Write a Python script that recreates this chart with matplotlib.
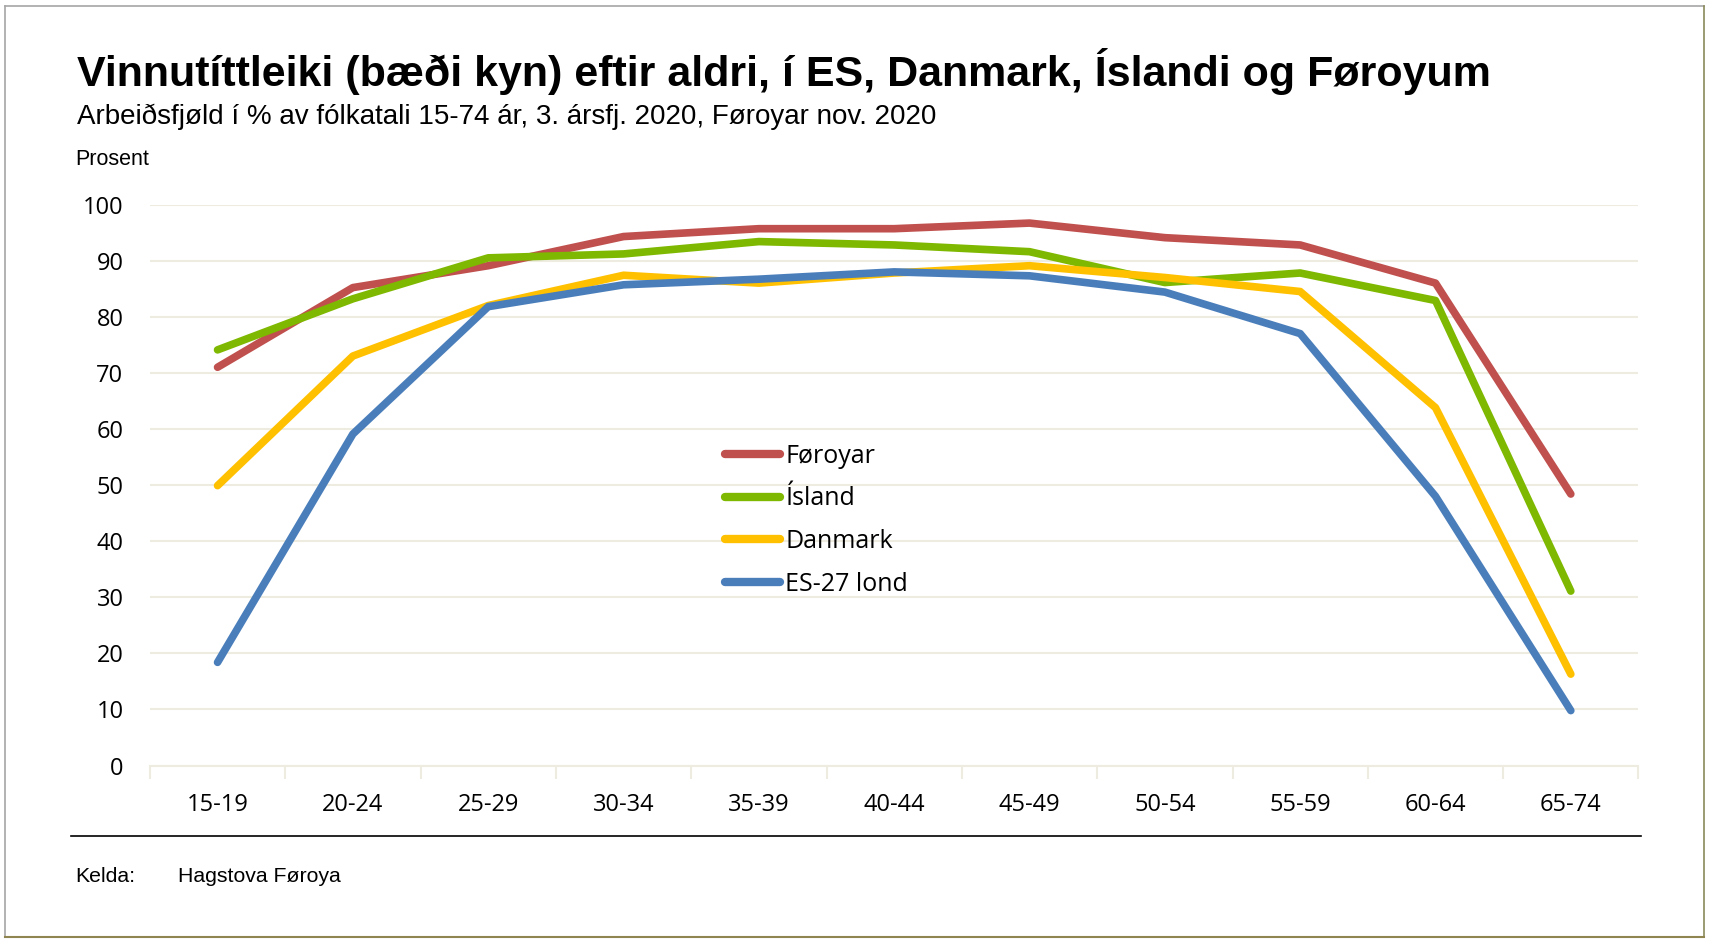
import matplotlib
matplotlib.use("Agg")
import matplotlib.pyplot as plt
from matplotlib.lines import Line2D

categories = ["15-19", "20-24", "25-29", "30-34", "35-39", "40-44",
              "45-49", "50-54", "55-59", "60-64", "65-74"]
series_names = ["Føroyar", "Ísland", "Danmark", "ES-27 lond"]
foroyar = [71.0, 85.2, 89.1, 94.3, 95.7, 95.7, 96.7, 94.1, 92.8, 86.0, 48.4]
island = [74.1, 83.2, 90.5, 91.2, 93.4, 92.8, 91.6, 86.1, 87.8, 82.9, 31.1]
danmark = [49.9, 73.0, 82.0, 87.4, 86.0, 87.8, 89.1, 87.0, 84.5, 63.8, 16.3]
es27 = [18.4, 59.1, 81.8, 85.7, 86.7, 88.0, 87.3, 84.4, 77.0, 48.0, 9.8]
yticks = [0, 10, 20, 30, 40, 50, 60, 70, 80, 90, 100]

colors = ["#C0504D", "#7FB800", "#FFC000", "#4A7EBB"]

title = "Vinnutíttleiki (bæði kyn) eftir aldri, í ES, Danmark, Íslandi og Føroyum"
subtitle = "Arbeiðsfjøld í % av fólkatali 15-74 ár, 3. ársfj. 2020, Føroyar nov. 2020"

W, H = 1713, 944
fig = plt.figure(figsize=(W / 100, H / 100), dpi=100)
fig.patch.set_facecolor("white")

# outer border
fig.add_artist(Line2D([0.0032, 0.0032], [0.007, 0.994], color="#A6A6A6", lw=1.2, transform=fig.transFigure))
fig.add_artist(Line2D([0.0032, 0.9949], [0.994, 0.994], color="#A6A6A6", lw=1.2, transform=fig.transFigure))
fig.add_artist(Line2D([0.9949, 0.9949], [0.007, 0.994], color="#8A8A5A", lw=1.2, transform=fig.transFigure))
fig.add_artist(Line2D([0.0032, 0.9949], [0.007, 0.007], color="#8F8550", lw=1.5, transform=fig.transFigure))

sans_ui = ["Open Sans", "DejaVu Sans"]
arial = ["Liberation Sans", "DejaVu Sans"]

fig.text(0.0447, 1 - 0.0753, title, fontsize=31, fontweight="bold", family=arial,
         ha="left", va="center", color="black")
fig.text(0.0447, 1 - 0.124, subtitle, fontsize=20, family=arial,
         ha="left", va="center", color="black")
fig.text(0.044, 1 - 0.169, "Prosent", fontsize=15.5, family=arial,
         ha="left", va="center", color="black")

ax = fig.add_axes([0.0875, 0.189, 0.869, 0.5943])
x = list(range(len(categories)))
for vals, c, name in zip([foroyar, island, danmark, es27], colors, series_names):
    ax.plot(x, vals, color=c, lw=5.5, solid_capstyle="round", solid_joinstyle="round",
            label=name, zorder=3)

ax.set_xlim(-0.5, len(categories) - 0.5)
ax.set_ylim(0, 100)
ax.set_yticks(yticks)
ax.set_yticklabels([str(v) for v in yticks], family=sans_ui, fontsize=17)
ax.set_xticks(x)
ax.set_xticklabels(categories, family=sans_ui, fontsize=17)
ax.set_xticks([i - 0.5 for i in range(len(categories) + 1)], minor=True)
ax.tick_params(axis="x", which="major", length=0, pad=20)
ax.tick_params(axis="x", which="minor", length=9, width=1.5, color="#EEECE1")
ax.tick_params(axis="y", length=0, pad=19)
ax.grid(axis="y", color="#EEECE1", lw=1.5, zorder=0)
for s in ["top", "right", "left"]:
    ax.spines[s].set_visible(False)
ax.spines["bottom"].set_color("#EEECE1")
ax.spines["bottom"].set_linewidth(1.5)
ax.set_facecolor("white")

leg = fig.legend(loc="upper left", bbox_to_anchor=(0.4235, 0.530), frameon=False,
                 prop={"family": sans_ui, "size": 18}, handlelength=2.2,
                 handletextpad=0.2, labelspacing=0.71, borderpad=0, borderaxespad=0)
for h in leg.get_lines():
    h.set_linewidth(6)
    h.set_solid_capstyle("round")

# separator line and source
fig.add_artist(Line2D([0.0415, 0.958], [1 - 0.886, 1 - 0.886], color="black", lw=1.2,
                      transform=fig.transFigure))
fig.text(0.044, 1 - 0.929, "Kelda:", fontsize=15.3, family=arial, ha="left", va="center")
fig.text(0.104, 1 - 0.929, "Hagstova Føroya", fontsize=15.3, family=arial, ha="left", va="center")

fig.savefig("out.png", dpi=100, facecolor="white")
